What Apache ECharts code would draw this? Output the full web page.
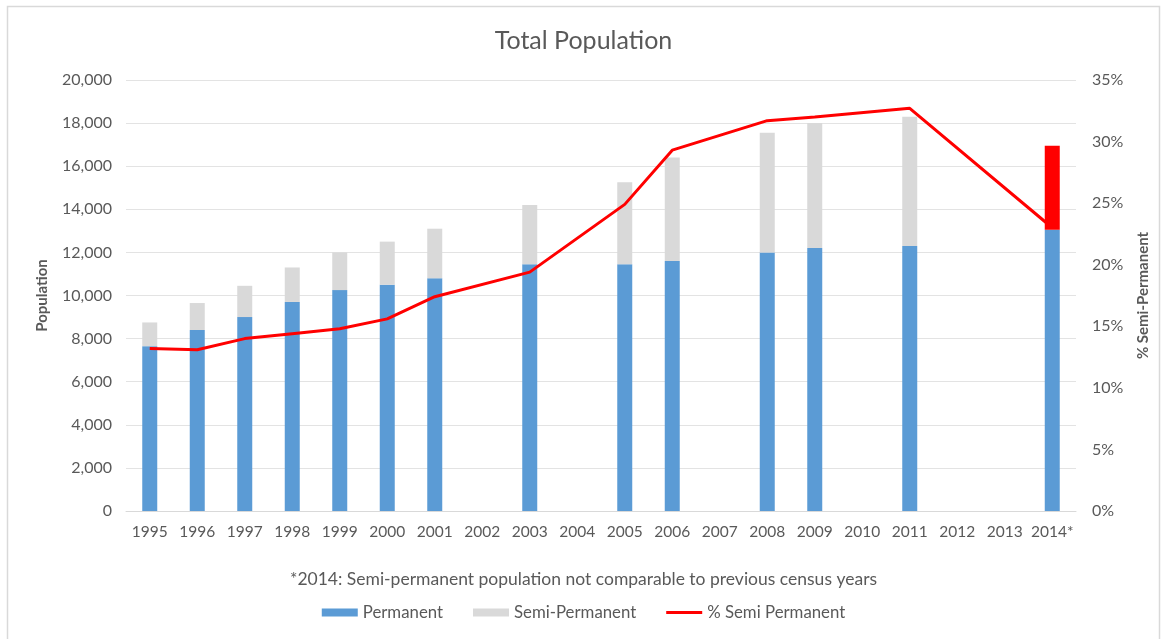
<!DOCTYPE html>
<html>
<head>
<meta charset="utf-8">
<script src="https://cdn.jsdelivr.net/npm/echarts@6/dist/echarts.min.js"></script>
<style>
html,body{margin:0;padding:0;background:#fff;}
#chart{width:1167px;height:639px;}
</style>
</head>
<body>
<div id="chart"></div>
<script>
const years = ['1995','1996','1997','1998','1999','2000','2001','2002','2003','2004','2005','2006','2007','2008','2009','2010','2011','2012','2013','2014*'];
const permanent = [7650, 8400, 9000, 9700, 10250, 10500, 10800, null, 11450, null, 11450, 11600, null, 12000, 12200, null, 12300, null, null, 13050];
const semiPermanent = [1100, 1250, 1450, 1600, 1750, 2000, 2300, null, 2750, null, 3800, 4800, null, 5550, 5800, null, 6000, null, null, 3900];
const pctSemi = [13.2, 13.1, 14.0, 14.4, 14.8, 15.6, 17.4, null, 19.4, null, 24.9, 29.3, null, 31.7, 32.0, null, 32.7, null, null, 23.0];
const leftTicks = {min: 0, max: 20000, interval: 2000};
const rightTicks = {min: 0, max: 35, interval: 5};

const FONT = 'Lato, "Open Sans", sans-serif';
const GRAY = '#595959';
const chart = echarts.init(document.getElementById('chart'));

const semiData = semiPermanent.map((v, i) => i === years.length - 1 ? {value: v, itemStyle: {color: '#ff0000'}} : v);

chart.setOption({
  animation: false,
  backgroundColor: '#fff',
  textStyle: {fontFamily: FONT},
  title: [
    {text: 'Total Population', left: 'center', top: 23, textStyle: {fontFamily: FONT, fontSize: 25, fontWeight: 'normal', color: GRAY}},
    {text: '*2014: Semi-permanent population not comparable to previous census years', left: 'center', top: 565, textStyle: {fontFamily: FONT, fontSize: 17.5, fontWeight: 'normal', color: GRAY}}
  ],
  graphic: [
    {type: 'rect', shape: {x: 7.5, y: 6.5, width: 1152, height: 640}, style: {fill: 'none', stroke: '#d9d9d9', lineWidth: 1.5}, silent: true}
  ],
  legend: {
    bottom: 13,
    left: 'center',
    itemWidth: 36,
    itemHeight: 8,
    itemGap: 30,
    textStyle: {fontFamily: FONT, fontSize: 16.8, color: GRAY},
    data: [
      {name: 'Permanent', icon: 'rect'},
      {name: 'Semi-Permanent', icon: 'rect'},
      {name: '% Semi Permanent', icon: 'path://M0 0H36V3H0Z'}
    ]
  },
  grid: {left: 126, right: 91, top: 80, bottom: 128},
  xAxis: {
    type: 'category',
    data: years,
    axisLine: {lineStyle: {color: '#d9d9d9', width: 1}},
    axisTick: {show: false},
    axisLabel: {color: GRAY, fontSize: 15.5, margin: 13, interval: 0, fontFamily: FONT}
  },
  yAxis: [
    {
      type: 'value',
      min: leftTicks.min, max: leftTicks.max, interval: leftTicks.interval,
      name: 'Population',
      nameLocation: 'middle',
      nameGap: 76,
      nameRotate: 90,
      nameTextStyle: {color: GRAY, fontSize: 15, fontWeight: 'bold', fontFamily: FONT},
      axisLine: {show: false},
      axisTick: {show: false},
      axisLabel: {color: GRAY, fontSize: 16, margin: 14, fontFamily: FONT, formatter: v => v.toLocaleString('en-US')},
      splitLine: {lineStyle: {color: '#e3e3e3', width: 1}}
    },
    {
      type: 'value',
      min: rightTicks.min, max: rightTicks.max, interval: rightTicks.interval,
      position: 'right',
      name: '% Semi-Permanent',
      nameLocation: 'middle',
      nameGap: 60,
      nameRotate: 90,
      nameTextStyle: {color: GRAY, fontSize: 15, fontWeight: 'bold', fontFamily: FONT},
      axisLine: {show: false},
      axisTick: {show: false},
      axisLabel: {color: GRAY, fontSize: 16, margin: 16, fontFamily: FONT, formatter: '{value}%'},
      splitLine: {show: false}
    }
  ],
  series: [
    {
      name: 'Permanent', type: 'bar', stack: 'pop', barWidth: 15,
      data: permanent,
      itemStyle: {color: '#5b9bd5'}
    },
    {
      name: 'Semi-Permanent', type: 'bar', stack: 'pop', barWidth: 15,
      data: semiData,
      itemStyle: {color: '#d9d9d9'}
    },
    {
      name: '% Semi Permanent', type: 'line', yAxisIndex: 1,
      data: pctSemi,
      connectNulls: true,
      smooth: false,
      showSymbol: false,
      symbol: 'none',
      lineStyle: {color: '#ff0000', width: 3},
      itemStyle: {color: '#ff0000'},
      z: 5
    }
  ]
});
</script>
</body>
</html>
